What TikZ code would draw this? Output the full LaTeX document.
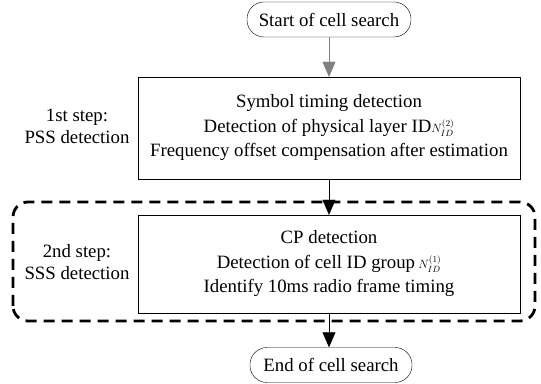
\documentclass[tikz,border=0pt]{standalone}
\usepackage{fontspec}
\setmainfont{Liberation Serif}
\usetikzlibrary{arrows.meta}

\newcommand{\idsym}[1]{{\fontsize{13}{13}\selectfont$N_{ID}^{(#1)}$}}

\tikzset{
  term/.style={draw,thin,rounded corners=17pt,minimum height=35pt,inner sep=0pt},
  stepbox/.style={draw,thin,align=center,inner sep=0pt,minimum width=382pt,
    font=\fontsize{18.8}{24.5}\selectfont},
  steplabel/.style={align=center,inner sep=0pt},
  flow/.style={-{Triangle[width=13pt,length=15pt]},thin}
}

\begin{document}
\begin{tikzpicture}
  [x=1pt,y=1pt,font=\fontsize{18.8}{22}\selectfont]
  \useasboundingbox (0,0) rectangle (541,383);

  \node[term,minimum width=164pt] (start) at (329,363.5) {Start of cell search};
  \node[stepbox,minimum height=102pt] (pss) at (329,255)
    {Symbol timing detection\\
     Detection of physical layer ID\idsym{2}\\
     Frequency offset compensation after estimation};
  \node[steplabel] (pssl) at (77,257) {1st step:\\PSS detection};

  \draw[line width=2.8pt,dash pattern=on 11pt off 7pt,rounded corners=15pt]
    (13,62) rectangle (535,181);
  \node[stepbox,minimum height=98pt] (sss) at (329,119)
    {CP detection\\
     Detection of cell ID group\,\idsym{1}\\
     Identify 10ms radio frame timing};
  \node[steplabel] (sssl) at (77,121) {2nd step:\\SSS detection};

  \node[term,minimum width=162pt] (end) at (331,18) {End of cell search};

  \draw[flow,draw=gray] (start) -- (start |- pss.north);
  \draw[flow] (pss) -- (pss.south |- sss.north);
  \draw[flow] (sss) -- (sss.south |- end.north);
\end{tikzpicture}
\end{document}
